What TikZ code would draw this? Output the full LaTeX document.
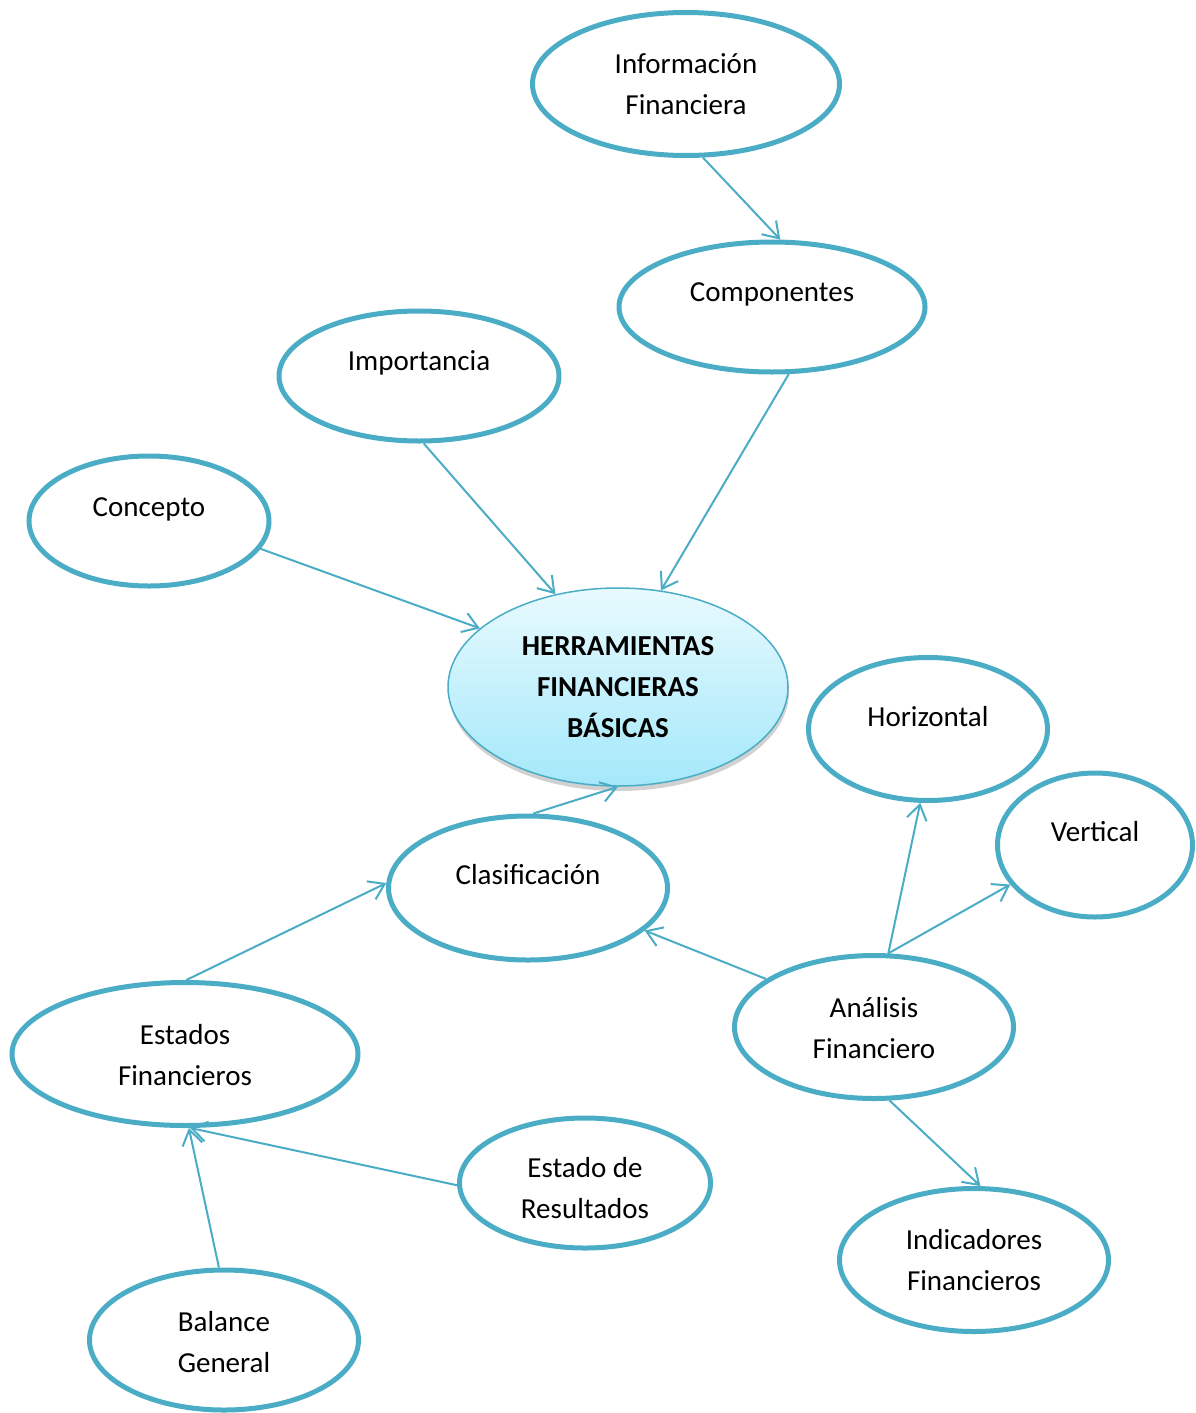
\documentclass[tikz,border=0pt]{standalone}
\usepackage{fontspec}
\setmainfont{Carlito}
\usetikzlibrary{shapes.geometric,arrows.meta,shadows}
\definecolor{acc}{HTML}{4BACC6}
\definecolor{htop}{HTML}{E8FAFE}
\definecolor{hbot}{HTML}{A4E8FA}
\begin{document}
\begin{tikzpicture}[x=1pt,y=-1pt,
  ell/.style={ellipse,draw=acc,line width=5pt,inner sep=0pt},
  txt/.style={align=center,font=\fontsize{29}{41}\selectfont,inner sep=0pt},
  arr/.style={draw=acc,line width=2pt,-{Straight Barb[length=15pt,width=20pt,line width=2pt]}}]
\useasboundingbox (0,0) rectangle (1195,1413);

\node[ellipse,draw=acc,line width=1.5pt,minimum width=340pt,minimum height=198pt,inner sep=0pt,
      top color=htop,bottom color=hbot,
      drop shadow={shadow xshift=1pt,shadow yshift=-5pt,opacity=0.3,fill=black!60}] (her) at (618,687) {};
\node[txt,font=\fontsize{29}{41}\selectfont\bfseries] (hert) at (618,687) {HERRAMIENTAS\\FINANCIERAS\\BÁSICAS};

\node[ell,minimum width=307pt,minimum height=143pt] (inf) at (686,84) {};
\node[txt] (inft) at (686,84) {Información\\Financiera};

\node[ell,minimum width=306pt,minimum height=130pt] (com) at (772,307) {};
\node[txt] (comt) at (772,294) {Componentes};

\node[ell,minimum width=280pt,minimum height=130pt] (imp) at (419,376) {};
\node[txt] (impt) at (419,363) {Importancia};

\node[ell,minimum width=240pt,minimum height=130pt] (cpt) at (149,521) {};
\node[txt] (cptt) at (149,509) {Concepto};

\node[ell,minimum width=239pt,minimum height=143pt] (hor) at (928,729) {};
\node[txt] (hort) at (928,717) {Horizontal};

\node[ell,minimum width=195pt,minimum height=144pt] (ver) at (1095,845) {};
\node[txt] (vert) at (1095,832) {Vertical};

\node[ell,minimum width=279pt,minimum height=144pt] (cla) at (528,888) {};
\node[txt] (clat) at (528,875) {Clasificación};

\node[ell,minimum width=279pt,minimum height=143pt] (ana) at (874,1027) {};
\node[txt] (anat) at (874,1028) {Análisis\\Financiero};

\node[ell,minimum width=346pt,minimum height=143pt] (est) at (185,1054) {};
\node[txt] (estt) at (185,1055) {Estados\\Financieros};

\node[ell,minimum width=251pt,minimum height=130pt] (res) at (585,1183) {};
\node[txt] (rest) at (585,1188) {Estado de\\Resultados};

\node[ell,minimum width=269pt,minimum height=143pt] (ind) at (974,1260) {};
\node[txt] (indt) at (974,1260) {Indicadores\\Financieros};

\node[ell,minimum width=269pt,minimum height=140pt] (bal) at (224,1340) {};
\node[txt] (balt) at (224,1342) {Balance\\General};

\draw[arr] (inf.-77) -- (com.83);
\draw[arr] (com.-76) -- (her.66);
\draw[arr] (imp.-86) -- (her.124);
\draw[arr] (cpt.-14) -- (her.157);
\draw[arr] (cla.86) -- (her.-90);
\draw[arr] (est.89) -- (cla.178);
\draw[arr] (ana.156) -- (cla.-20);
\draw[arr] (ana.79) -- (hor.-96);
\draw[arr] (ana.79) -- (ver.-155);
\draw[arr] (ana.-78) -- (ind.85);
\draw[arr] (res.-179) -- (est.-86);
\draw[arr] (bal.94) -- (est.-87);
\end{tikzpicture}
\end{document}
